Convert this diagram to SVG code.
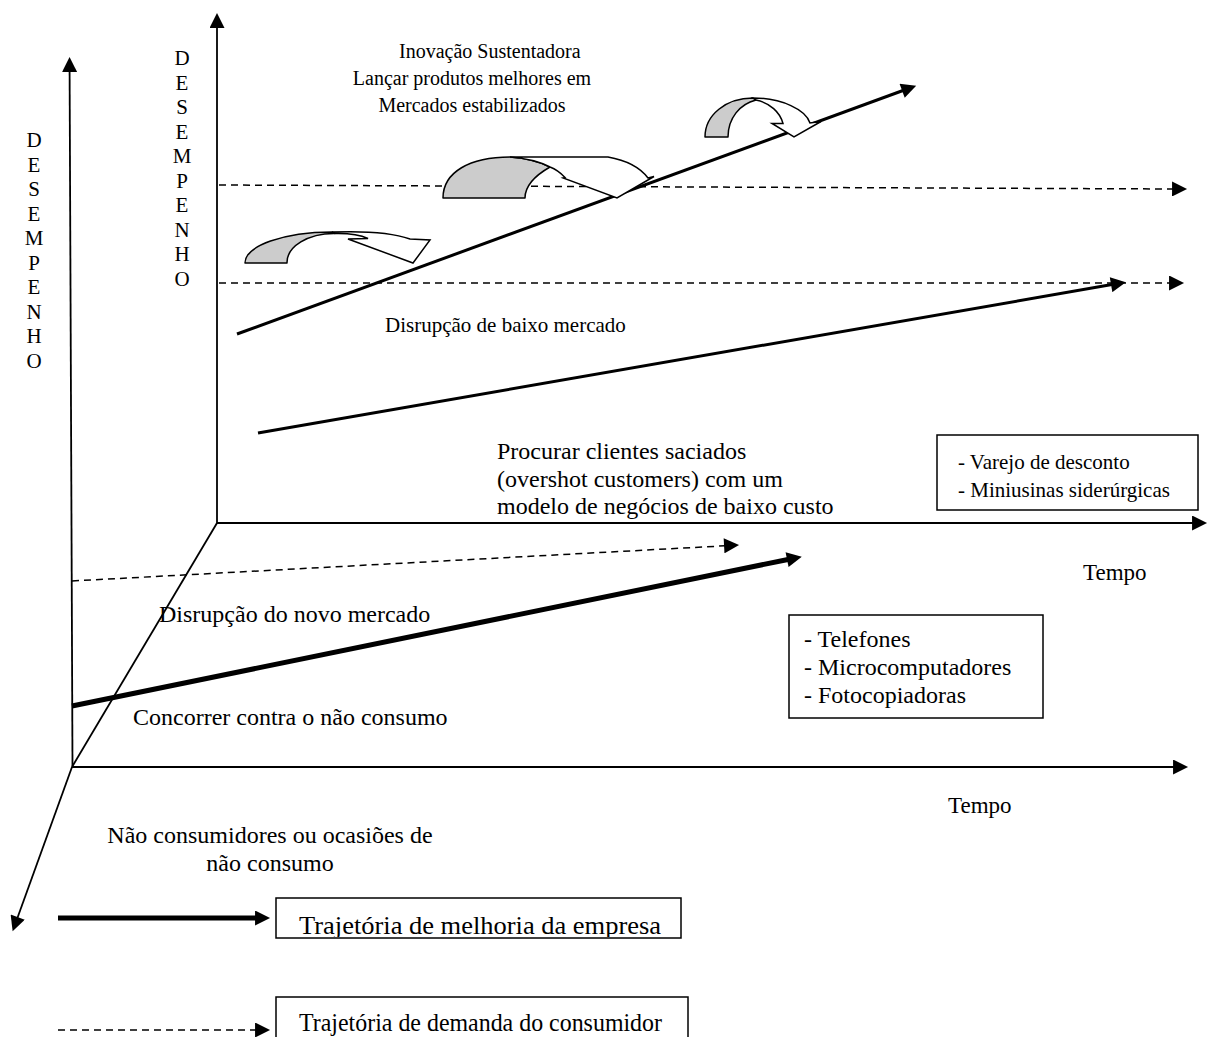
<svg xmlns="http://www.w3.org/2000/svg" width="1215" height="1037" viewBox="0 0 1215 1037">
<style>
text{font-family:"Liberation Serif","Times New Roman",serif;fill:#000}
.t20{font-size:20px}.t21{font-size:21px}.t23{font-size:23px}.t24{font-size:24px}.t25{font-size:25px}
.ax{stroke:#000;stroke-width:1.8;fill:none}
.dash{stroke:#000;stroke-width:1.5;stroke-dasharray:7 5;fill:none}
.bold3{stroke:#000;stroke-width:3;fill:none}
.bold5{stroke:#000;stroke-width:5;fill:none}
.box{fill:#fff;stroke:#000;stroke-width:1.5}
.gray{fill:#ccc;stroke:#000;stroke-width:1.5;stroke-linejoin:round}
.white{fill:#fff;stroke:#000;stroke-width:1.5;stroke-linejoin:miter}
</style>
<defs>
<marker id="ah" viewBox="0 0 16 16" refX="1" refY="8" markerWidth="16" markerHeight="15" markerUnits="userSpaceOnUse" orient="auto">
<path d="M0,0 L16,8 L0,16 Z" fill="#000"/>
</marker>
<clipPath id="clip1"><rect x="276" y="898" width="405" height="39"/></clipPath>
</defs>
<rect width="1215" height="1037" fill="#fff"/>
<g id="connectors">
<line class="ax" x1="72.5" y1="767" x2="69.6" y2="71" marker-end="url(#ah)"/>
<line class="ax" x1="217" y1="523" x2="217" y2="27" marker-end="url(#ah)"/>
<line class="ax" x1="217" y1="523" x2="1193" y2="523" marker-end="url(#ah)"/>
<line class="ax" x1="72" y1="767" x2="1174" y2="767" marker-end="url(#ah)"/>
<line class="ax" x1="217" y1="523" x2="72" y2="767"/>
<line class="ax" x1="72" y1="767" x2="17.4" y2="918" marker-end="url(#ah)"/>
<line class="dash" x1="219" y1="185" x2="1173" y2="189" marker-end="url(#ah)"/>
<line class="dash" x1="219" y1="283" x2="1170" y2="283" marker-end="url(#ah)"/>
<line class="dash" x1="72" y1="581" x2="725" y2="545.8" marker-end="url(#ah)"/>
<line class="bold3" x1="237" y1="334" x2="903" y2="90.5" marker-end="url(#ah)"/>
<line class="bold3" x1="258" y1="433" x2="1112" y2="284.6" marker-end="url(#ah)"/>
<line class="bold5" x1="72" y1="706" x2="788" y2="559.5" marker-end="url(#ah)"/>
<line class="bold5" x1="58" y1="918" x2="256" y2="918" marker-end="url(#ah)"/>
<line class="dash" x1="58" y1="1030" x2="256" y2="1030" marker-end="url(#ah)"/>
</g>
<g id="curved-arrow-1">
<path class="gray" d="M245,263 A87,31 0 0 1 332,232 L335,233.5 A47,29 0 0 0 287,263 Z"/>
<path class="white" d="M332,232 Q385,230 410,239 L430,240 L413,263 L348,239 L368,238.5 Q356,233 335,233.5 Z"/>
</g>
<g id="curved-arrow-2">
<path class="gray" d="M443,198 C443,172 470,157 510,157 Q535,159 550,167 C536,175 525,185 525,198 Z"/>
<path class="white" d="M510,157 L608,157 Q636,162 648,178 L654,176.5 L617,198 L563,178 L565,177.5 Q558,170 550,167 Q535,159 510,157 Z"/>
</g>
<g id="curved-arrow-3">
<path class="gray" d="M705,137 C705,115 726,98 753,98 L756,100 C740,104 728,118 728,137 Z"/>
<path class="white" d="M753,98 C782,98 806,110 810,123 L821,121.5 L794,137 L772,123.5 L783,123.5 C780,112 770,103 756,100 Z"/>
</g>
<g id="label-sustaining">
<text class="t20" x="399" y="58">Inovação Sustentadora</text>
<text class="t20" x="472" y="85" text-anchor="middle">Lançar produtos melhores em</text>
<text class="t20" x="472" y="112" text-anchor="middle">Mercados estabilizados</text>
</g>
<g id="axis-label-outer">
<text class="t21" text-anchor="middle">
<tspan x="34" y="147">D</tspan><tspan x="34" y="171.5">E</tspan><tspan x="34" y="196">S</tspan><tspan x="34" y="220.5">E</tspan><tspan x="34" y="245">M</tspan><tspan x="34" y="269.5">P</tspan><tspan x="34" y="294">E</tspan><tspan x="34" y="318.5">N</tspan><tspan x="34" y="343">H</tspan><tspan x="34" y="367.5">O</tspan>
</text>
</g>
<g id="axis-label-inner">
<text class="t21" text-anchor="middle">
<tspan x="182" y="65">D</tspan><tspan x="182" y="89.5">E</tspan><tspan x="182" y="114">S</tspan><tspan x="182" y="138.5">E</tspan><tspan x="182" y="163">M</tspan><tspan x="182" y="187.5">P</tspan><tspan x="182" y="212">E</tspan><tspan x="182" y="236.5">N</tspan><tspan x="182" y="261">H</tspan><tspan x="182" y="285.5">O</tspan>
</text>
</g>
<g id="label-low-end">
<text class="t21" x="385" y="332">Disrupção de baixo mercado</text>
</g>
<g id="label-overshot">
<text class="t24" x="497" y="459">Procurar clientes saciados</text>
<text class="t24" x="497" y="487">(overshot customers) com um</text>
<text class="t24" x="497" y="514">modelo de negócios de baixo custo</text>
</g>
<g id="box-examples-low">
<rect class="box" x="937" y="435" width="261" height="75"/>
<text class="t21" x="958" y="469">- Varejo de desconto</text>
<text class="t21" x="958" y="497">- Miniusinas siderúrgicas</text>
</g>
<g id="label-tempo-inner">
<text class="t23" x="1083" y="580">Tempo</text>
</g>
<g id="label-new-market">
<text class="t24" x="159" y="622">Disrupção do novo mercado</text>
</g>
<g id="box-examples-new">
<rect class="box" x="789" y="615" width="254" height="103"/>
<text class="t24" x="804" y="647">- Telefones</text>
<text class="t24" x="804" y="675">- Microcomputadores</text>
<text class="t24" x="804" y="703">- Fotocopiadoras</text>
</g>
<g id="label-nonconsumption">
<text class="t24" x="133" y="725">Concorrer contra o não consumo</text>
</g>
<g id="label-tempo-outer">
<text class="t23" x="948" y="813">Tempo</text>
</g>
<g id="label-nonconsumers">
<text class="t24" x="270" y="843" text-anchor="middle">Não consumidores ou ocasiões de</text>
<text class="t24" x="270" y="871" text-anchor="middle">não consumo</text>
</g>
<g id="legend-improvement">
<rect class="box" x="276" y="898" width="405" height="40"/>
<text class="t25" x="299" y="934" textLength="362" lengthAdjust="spacingAndGlyphs" clip-path="url(#clip1)">Trajetória de melhoria da empresa</text>
</g>
<g id="legend-demand">
<rect class="box" x="276" y="997" width="412" height="45"/>
<text class="t25" x="299" y="1031" textLength="363" lengthAdjust="spacingAndGlyphs">Trajetória de demanda do consumidor</text>
</g>
</svg>
